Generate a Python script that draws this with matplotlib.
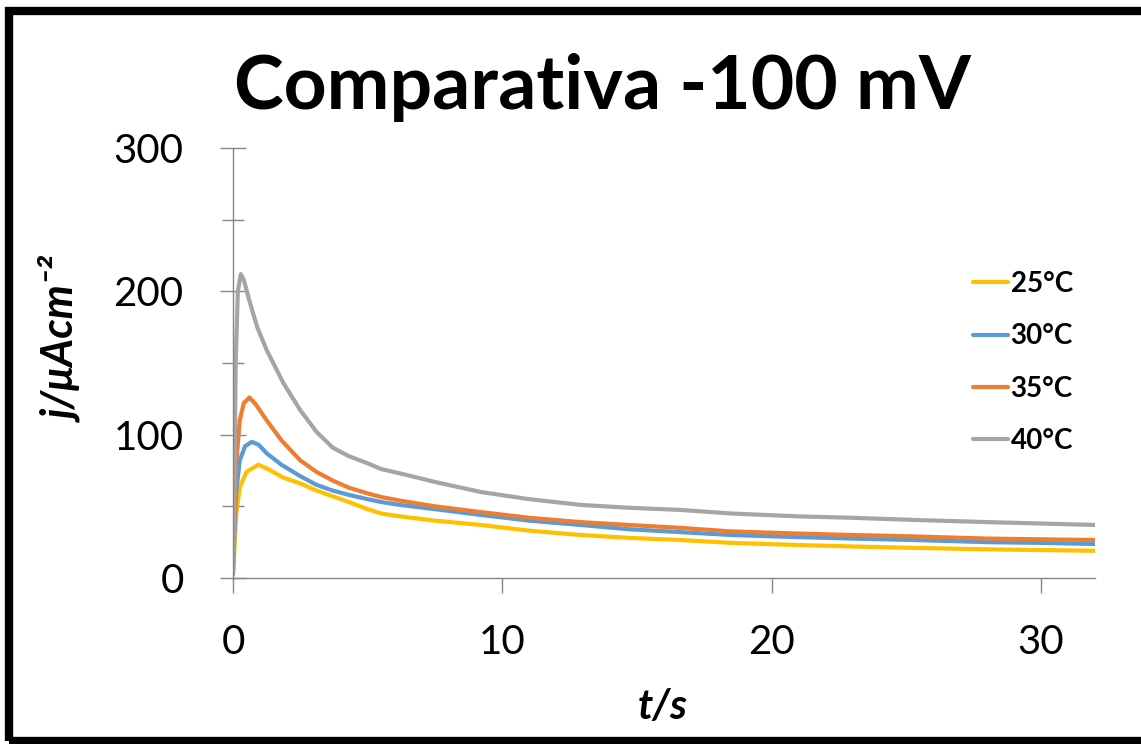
import matplotlib.pyplot as plt
from matplotlib.patches import Rectangle
from matplotlib.ticker import MultipleLocator

# values (t in s, j in uA/cm2)
t_25 = [0, 0.05, 0.12, 0.25, 0.5, 0.94, 1.3, 1.87, 2.5, 3.1, 3.7, 4.3, 5.0, 5.5,
        6.2, 7.5, 9.2, 11, 12.9, 14.7, 16.6, 18.5, 21, 23, 25.3, 28, 30, 32]
j_25 = [2, 20, 45, 63, 74, 79, 76, 70, 66, 61, 57, 53, 48, 45,
        43, 40, 37, 33, 30, 28, 26.5, 24.5, 23, 22, 21, 20, 19.5, 19]

t_30 = [0, 0.05, 0.12, 0.25, 0.45, 0.7, 0.95, 1.25, 1.8, 2.5, 3.1, 3.7, 4.3, 5.0,
        5.5, 6.2, 7.5, 9.2, 11, 12.9, 14.7, 16.6, 18.5, 21, 23, 25.3, 28, 30, 32]
j_30 = [3, 30, 60, 82, 92, 95, 93, 87, 79, 71, 65, 61, 58, 55,
        53, 51, 48, 44, 40, 37, 34, 32, 30, 28.5, 27.5, 26.5, 25, 24.5, 23.7]

t_35 = [0, 0.05, 0.12, 0.25, 0.4, 0.61, 0.85, 1.25, 1.8, 2.5, 3.1, 3.7, 4.3, 5.0,
        5.5, 6.2, 7.5, 9.2, 11, 12.9, 14.7, 16.6, 18.5, 21, 23, 25.3, 28, 30, 32]
j_35 = [5, 40, 80, 110, 122, 126, 121, 110, 96, 82, 74, 68, 63, 59,
        56.5, 54, 50, 46, 42, 39, 37, 35, 32.5, 31, 30, 29, 27.5, 27, 26.5]

t_40 = [0, 0.05, 0.1, 0.18, 0.29, 0.4, 0.63, 0.9, 1.25, 1.87, 2.5, 3.1, 3.7, 4.3,
        5.0, 5.5, 6.2, 7.5, 9.2, 11, 12.9, 14.7, 16.6, 18.5, 21, 23, 25.3, 28, 30, 32]
j_40 = [5, 60, 150, 200, 212, 208, 192, 175, 159, 136, 117, 102, 91, 85,
        80, 76, 73, 67, 60, 55, 51, 49, 47.5, 45, 43, 42, 40.5, 39, 38, 37]

series = [("25°C", t_25, j_25, "#FFC000"),
          ("30°C", t_30, j_30, "#5B9BD5"),
          ("35°C", t_35, j_35, "#ED7D31"),
          ("40°C", t_40, j_40, "#A5A5A5")]

plt.rcParams['font.family'] = ['Lato', 'DejaVu Sans']

fig = plt.figure(figsize=(11.41, 7.44), dpi=100)
ax = fig.add_axes([233 / 1141, 1 - 578 / 744, (1095 - 233) / 1141, (578 - 148) / 744])

for label, t, j, c in series:
    ax.plot(t, j, color=c, lw=3, label=label, solid_capstyle='round')

ax.set_xlim(0, 32)
ax.set_ylim(0, 300)
ax.xaxis.set_major_locator(MultipleLocator(10))
ax.yaxis.set_major_locator(MultipleLocator(100))
ax.yaxis.set_minor_locator(MultipleLocator(50))

for s in ['top', 'right']:
    ax.spines[s].set_visible(False)
for s in ['left', 'bottom']:
    ax.spines[s].set_color('#868686')
    ax.spines[s].set_linewidth(1)

ax.tick_params(axis='y', which='major', direction='inout', length=19, width=1,
               color='#868686', labelsize=29, pad=26)
ax.tick_params(axis='y', which='minor', direction='inout', length=16, width=1,
               color='#868686')
ax.tick_params(axis='x', which='major', direction='out', length=11, width=1,
               color='#868686', labelsize=29, pad=22)

fig.text(0.528, 1 - 88 / 744, "Comparativa -100 mV", fontsize=54, fontweight='bold',
         ha='center', va='center')
fig.text(63 / 1141, 1 - 340 / 744, "j/μAcm⁻²", fontsize=31,
         fontweight='bold', style='italic', rotation=90, ha='center', va='center')
fig.text(663 / 1141, 1 - 707 / 744, "t/s", fontsize=30, fontweight='bold',
         style='italic', ha='center', va='center')

leg = ax.legend(loc='upper left', bbox_to_anchor=(948 / 1141, 1 - 246 / 744),
                bbox_transform=fig.transFigure, frameon=False,
                prop={'size': 20, 'weight': 'bold'}, handlelength=1.25,
                handletextpad=0.1, labelspacing=0.95)

# black frame around the whole picture
fig.patches.append(Rectangle((9 / 1141, 3 / 744), 1.2, 1 - 14 / 744,
                             transform=fig.transFigure, fill=False,
                             edgecolor='black', lw=6, clip_on=False))

fig.savefig("out.png", dpi=100)
